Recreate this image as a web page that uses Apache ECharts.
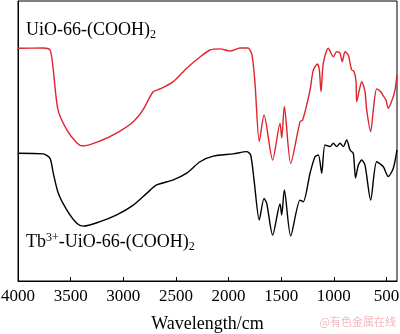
<!DOCTYPE html>
<html>
<head>
<meta charset="utf-8">
<script src="https://cdn.jsdelivr.net/npm/echarts@6/dist/echarts.min.js"></script>
<style>html,body{margin:0;padding:0;background:#fff}#c{width:400px;height:334px}</style>
</head>
<body>
<div id="c"></div>
<script>
// Wavenumber (cm^-1) for each sample, with transmittance (arbitrary units)
const redWave = [4000,3762,3696,3668,3620,3535,3440,3383,3221,3060,2908,2813,2718,2651,2528,2395,2271,2176,2081,1986,1891,1815,1777,1749,1708,1663,1581,1511,1495,1470,1410,1321,1296,1226,1195,1157,1138,1122,1100,1053,1005,973,941,920,894,863,831,808,789,783,758,735,704,688,650,625,593,555,530,504,483,450,419,400];
const redT = [83.1,83.2,82.5,76.4,61.1,53.9,49.3,48.2,50.0,52.9,56.8,61.1,67.5,68.6,71.1,76.1,80.0,82.5,82.9,82.1,83.2,83.2,80.7,70.7,49.8,59.3,43.2,56.3,51.1,62.3,42.0,56.9,57.5,68.2,75.4,77.5,75.4,67.6,77.8,83.1,80.1,81.9,81.4,78.3,81.9,80.7,75.4,74.8,71.2,64.0,68.2,71.2,67.6,61.1,53.3,61.1,68.6,67.6,66.1,64.6,61.7,64.3,68.2,73.6];
const blackWave = [4000,3760,3696,3665,3617,3537,3442,3380,3221,3062,2905,2778,2683,2525,2398,2271,2145,1955,1828,1790,1758,1708,1663,1638,1581,1511,1495,1470,1410,1321,1290,1226,1179,1147,1115,1084,1036,1005,973,941,910,878,846,815,794,767,735,704,650,593,530,483,435,400];
const blackT = [45.6,45.4,43.8,38.5,31.3,25.4,20.6,19.6,21.2,23.6,27.1,31.3,34.3,36.1,38.5,42.6,44.6,45.4,46.2,45.0,36.1,21.8,29.5,27.8,16.4,27.5,23.6,32.5,16.1,28.9,28.3,38.5,44.4,45.0,38.5,48.6,48.0,49.2,48.0,49.2,48.0,50.4,46.8,45.6,36.8,41.4,43.2,41.4,28.9,42.6,40.8,37.3,40.3,46.8];
const tickValues = [4000,3500,3000,2500,2000,1500,1000,500];
const xAxisTitle = 'Wavelength/cm';
const label1 = ['UiO-66-(COOH)', '2'];
const label2 = ['Tb', '3+', '-UiO-66-(COOH)', '2'];
const watermark = '@有色金属在线';

const zip = (a, b) => a.map((v, i) => [v, b[i]]);
const chart = echarts.init(document.getElementById('c'), null, {renderer: 'canvas'});
const font = '"Liberation Serif","Times New Roman",serif';
chart.setOption({
  animation: false,
  backgroundColor: '#fff',
  grid: {left: 18, right: 3, top: 1, bottom: 53, show: true, borderColor: '#000', borderWidth: 1,
    containLabel: false, outerBoundsMode: 'none'},
  xAxis: {
    type: 'value', min: 400, max: 4000, inverse: true,
    axisLine: {show: true, lineStyle: {color: '#000', width: 1}},
    axisTick: {show: true, inside: true, length: 4, customValues: tickValues, lineStyle: {color: '#000'}},
    axisLabel: {show: true, customValues: tickValues, color: '#000', fontFamily: font, fontSize: 17, margin: 7,
      formatter: v => String(v), hideOverlap: false},
    splitLine: {show: false},
    name: xAxisTitle, nameLocation: 'middle', nameGap: 34,
    nameTextStyle: {color: '#000', fontFamily: font, fontSize: 18}
  },
  yAxis: {
    type: 'value', min: 0, max: 100,
    axisLine: {show: true, lineStyle: {color: '#000'}},
    axisTick: {show: false}, axisLabel: {show: false}, splitLine: {show: false}
  },
  series: [
    {type: 'line', data: zip(redWave, redT), showSymbol: false, smooth: 0.25,
      lineStyle: {color: '#e0242c', width: 1.4}},
    {type: 'line', data: zip(blackWave, blackT), showSymbol: false, smooth: 0.25,
      lineStyle: {color: '#000', width: 1.4}}
  ],
  graphic: [
    {type: 'text', left: 26, top: 21, style: {
      text: '{a|' + label1[0] + '}{s|' + label1[1] + '}',
      rich: {a: {fontFamily: font, fontSize: 18, fill: '#000'},
             s: {fontFamily: font, fontSize: 12, fill: '#000', padding: [9, 0, 0, 0]}}}},
    {type: 'text', left: 26, top: 232, style: {
      text: '{a|' + label2[0] + '}{p|' + label2[1] + '}{a|' + label2[2] + '}{s|' + label2[3] + '}',
      rich: {a: {fontFamily: font, fontSize: 18, fill: '#000'},
             p: {fontFamily: font, fontSize: 12, fill: '#000', padding: [0, 0, 9, 0]},
             s: {fontFamily: font, fontSize: 12, fill: '#000', padding: [9, 0, 0, 0]}}}},
    {type: 'text', right: 4, top: 316, style: {text: watermark, fontFamily: '"Noto Sans CJK SC",sans-serif', fontSize: 11, fill: '#f2b8bd'}}
  ]
});
</script>
</body>
</html>
